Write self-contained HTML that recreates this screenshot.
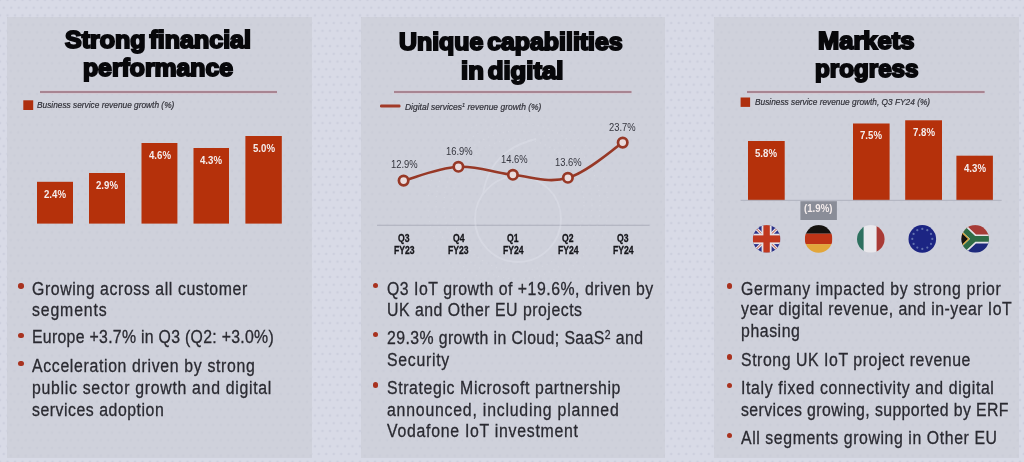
<!DOCTYPE html>
<html lang="en"><head><meta charset="utf-8"><title>Business performance</title>
<style>
html,body{margin:0;padding:0}
body{width:1024px;height:462px;overflow:hidden;position:relative;background-color:#D8DAE6;background-image:radial-gradient(circle,rgba(110,118,150,.11) 0,rgba(110,118,150,.11) .9px,transparent 1.7px),radial-gradient(circle,rgba(110,118,150,.11) 0,rgba(110,118,150,.11) .9px,transparent 1.7px);background-size:7.5px 15.4px;background-position:0 0,3.75px 7.7px;font-family:'Liberation Sans',sans-serif}
.pan{position:absolute;background-color:#CFD1DB;background-image:radial-gradient(circle,rgba(110,118,150,.045) 0,rgba(110,118,150,.045) .9px,transparent 1.7px),radial-gradient(circle,rgba(110,118,150,.045) 0,rgba(110,118,150,.045) .9px,transparent 1.7px);background-size:7.5px 15.4px;background-position:0 0,3.75px 7.7px}
.t{position:absolute;white-space:nowrap;transform-origin:0 0;line-height:normal;color:#2a2a31}
.ttl{font:bold 24px 'Liberation Sans',sans-serif;word-spacing:-3px;color:#08080b;-webkit-text-stroke:1.9px #08080b}
.leg{font:italic 9px 'Liberation Sans',sans-serif;color:#303038;-webkit-text-stroke:0.2px #303038}
.bul{font:18px 'Liberation Sans',sans-serif;-webkit-text-stroke:0.3px #2a2a31}
.bl{font:bold 10px 'Liberation Sans',sans-serif;color:#f4ecec}
.pl{font:10px 'Liberation Sans',sans-serif;color:#34353e}
.ax{font:bold 10.4px 'Liberation Sans',sans-serif;color:#15151a;-webkit-text-stroke:0.3px #15151a}
sup{font-size:.66em;line-height:0;vertical-align:baseline;position:relative;top:-.42em}
.dot{position:absolute;width:5.6px;height:5.6px;border-radius:50%;background:#A8321F}
svg{position:absolute;left:0;top:0}
</style></head><body>
<div class="pan" style="left:6.8px;top:16.7px;width:305.2px;height:441.3px"></div>
<div class="pan" style="left:360.8px;top:16.8px;width:304.6px;height:441.2px"></div>
<div class="pan" style="left:713.8px;top:16.8px;width:305.2px;height:441.2px"></div>
<svg width="1024" height="462" viewBox="0 0 1024 462">
<rect x="37" y="181.8" width="36.0" height="41.8" fill="#B5310B"/>
<rect x="89" y="173" width="36.0" height="50.6" fill="#B5310B"/>
<rect x="141.5" y="143" width="35.9" height="80.6" fill="#B5310B"/>
<rect x="193.5" y="148" width="35.5" height="75.6" fill="#B5310B"/>
<rect x="245.4" y="136" width="36.4" height="87.6" fill="#B5310B"/>
<rect x="748" y="141" width="36.7" height="59.4" fill="#B5310B"/>
<rect x="853" y="123.5" width="36.6" height="76.9" fill="#B5310B"/>
<rect x="905.2" y="120.3" width="36.8" height="80.1" fill="#B5310B"/>
<rect x="956.4" y="155.7" width="36.5" height="44.7" fill="#B5310B"/>
<rect x="800.4" y="201.2" width="36.5" height="18.8" fill="#8A8D98"/>
<rect x="740.6" y="199.8" width="261" height="1.1" fill="#B2B4C0"/>
<rect x="23.3" y="100.3" width="9.9" height="9.7" fill="#AE2F0E"/>
<rect x="740.6" y="97.5" width="9.5" height="9.4" fill="#AE2F0E"/>
<rect x="40" y="90.2" width="237.0" height="3.8" fill="#D6C8D2" opacity="0.7"/><rect x="40" y="91" width="237.0" height="2" fill="#A88592"/>
<rect x="394" y="90.2" width="237.5" height="3.8" fill="#D6C8D2" opacity="0.7"/><rect x="394" y="91" width="237.5" height="2" fill="#A88592"/>
<rect x="747" y="90.2" width="237.6" height="3.8" fill="#D6C8D2" opacity="0.7"/><rect x="747" y="91" width="237.6" height="2" fill="#A88592"/>
<rect x="377" y="224.7" width="272.6" height="1.2" fill="#B2B4C0"/>
<rect x="380" y="104.6" width="20.5" height="2.8" rx="1.2" fill="#A23A28"/>
<g fill="none" stroke="#E2E4ED" opacity="0.4"><circle cx="518" cy="219" r="43" stroke-width="1.8"/><path d="M483,194 Q490,150 536,139" stroke-width="1.8"/><circle cx="518" cy="205" r="66" stroke-width="1.2" stroke-dasharray="1.2 4" opacity="0.6"/><circle cx="518" cy="205" r="74" stroke-width="1.2" stroke-dasharray="1.2 4" opacity="0.6"/><circle cx="518" cy="205" r="82" stroke-width="1.2" stroke-dasharray="1.2 4" opacity="0.6"/><circle cx="518" cy="205" r="90" stroke-width="1.2" stroke-dasharray="1.2 4" opacity="0.5"/></g>
<path d="M403.6,180.6 C413.6,178.1 438.4,167.9 458.4,166.8 C478.4,165.7 492.8,172.8 512.9,174.8 C533.0,176.8 547.8,183.7 567.9,177.8 C588.0,171.9 612.7,149.1 622.7,142.6" fill="none" stroke="#973826" stroke-width="2.6" stroke-linecap="round"/>
<circle cx="403.6" cy="180.6" r="4.7" fill="#E9DCDD" stroke="#973826" stroke-width="2.7"/>
<circle cx="458.4" cy="166.8" r="4.7" fill="#E9DCDD" stroke="#973826" stroke-width="2.7"/>
<circle cx="512.9" cy="174.8" r="4.7" fill="#E9DCDD" stroke="#973826" stroke-width="2.7"/>
<circle cx="567.9" cy="177.8" r="4.7" fill="#E9DCDD" stroke="#973826" stroke-width="2.7"/>
<circle cx="622.7" cy="142.6" r="4.7" fill="#E9DCDD" stroke="#973826" stroke-width="2.7"/>
<defs><clipPath id="c0"><circle cx="766.6" cy="238.9" r="13.8"/></clipPath><clipPath id="c1"><circle cx="818.6" cy="238.9" r="13.8"/></clipPath><clipPath id="c2"><circle cx="870.8" cy="238.9" r="13.8"/></clipPath><clipPath id="c3"><circle cx="922.3" cy="238.9" r="13.8"/></clipPath><clipPath id="c4"><circle cx="975.2" cy="238.9" r="13.8"/></clipPath></defs>
<g clip-path="url(#c0)"><rect x="752.8000000000001" y="225.1" width="27.6" height="27.6" fill="#2A3188"/><path d="M752.8000000000001,225.1 L780.4,252.70000000000002 M780.4,225.1 L752.8000000000001,252.70000000000002" stroke="#E4E0E6" stroke-width="3.2"/><path d="M752.8000000000001,225.1 L780.4,252.70000000000002 M780.4,225.1 L752.8000000000001,252.70000000000002" stroke="#C4503E" stroke-width="1.0"/><rect x="761.6" y="225.1" width="10" height="27.6" fill="#E4E0E6"/><rect x="752.8000000000001" y="233.70000000000002" width="27.6" height="10.4" fill="#E4E0E6"/><rect x="763.4" y="225.1" width="6.4" height="27.6" fill="#C0381F"/><rect x="752.8000000000001" y="235.4" width="27.6" height="7" fill="#C0381F"/></g>
<g clip-path="url(#c1)"><rect x="804.8000000000001" y="225.1" width="27.6" height="8.6" fill="#15120F"/><rect x="804.8000000000001" y="233.7" width="27.6" height="10.4" fill="#BE3417"/><rect x="804.8000000000001" y="244.1" width="27.6" height="9" fill="#E2A63A"/></g>
<g clip-path="url(#c2)"><rect x="857.0" y="225.1" width="27.6" height="27.6" fill="#E9E8EC"/><rect x="857.0" y="225.1" width="6.6" height="27.6" fill="#2E705F"/><rect x="876.5999999999999" y="225.1" width="9" height="27.6" fill="#A93A35"/></g>
<circle cx="922.3" cy="238.9" r="13.8" fill="#1C2583"/>
<circle cx="922.3" cy="228.9" r="1.1" fill="#6272AE"/>
<circle cx="927.3" cy="230.2" r="1.1" fill="#6272AE"/>
<circle cx="931.0" cy="233.9" r="1.1" fill="#6272AE"/>
<circle cx="932.3" cy="238.9" r="1.1" fill="#6272AE"/>
<circle cx="931.0" cy="243.9" r="1.1" fill="#6272AE"/>
<circle cx="927.3" cy="247.6" r="1.1" fill="#6272AE"/>
<circle cx="922.3" cy="248.9" r="1.1" fill="#6272AE"/>
<circle cx="917.3" cy="247.6" r="1.1" fill="#6272AE"/>
<circle cx="913.6" cy="243.9" r="1.1" fill="#6272AE"/>
<circle cx="912.3" cy="238.9" r="1.1" fill="#6272AE"/>
<circle cx="913.6" cy="233.9" r="1.1" fill="#6272AE"/>
<circle cx="917.3" cy="230.2" r="1.1" fill="#6272AE"/>
<g clip-path="url(#c4)"><rect x="961.4000000000001" y="225.1" width="27.6" height="13.8" fill="#A63B36"/><rect x="961.4000000000001" y="238.9" width="27.6" height="13.8" fill="#1E2A7C"/><path d="M957.4000000000001,223.1 L974.2,238.9 L957.4000000000001,254.70000000000002 M974.2,238.9 L991.0,238.9" stroke="#E4E2E6" stroke-width="9" fill="none"/><path d="M957.4000000000001,223.1 L974.2,238.9 L957.4000000000001,254.70000000000002 M974.2,238.9 L991.0,238.9" stroke="#2F6B45" stroke-width="5.6" fill="none"/><path d="M960.4000000000001,230.9 L968.7,238.9 L960.4000000000001,246.9 Z" fill="#14110E" stroke="#D9A83C" stroke-width="1.3"/></g>
</svg>
<div class="t ttl" style="left:65.0px;top:26.30px;transform:scaleX(1.0428)">Strong financial</div>
<div class="t ttl" style="left:83.0px;top:53.80px;transform:scaleX(1.0317)">performance</div>
<div class="t ttl" style="left:399.0px;top:27.80px;transform:scaleX(1.0370)">Unique capabilities</div>
<div class="t ttl" style="left:460.6px;top:56.80px;transform:scaleX(1.0703)">in digital</div>
<div class="t ttl" style="left:817.7px;top:27.30px;transform:scaleX(1.0615)">Markets</div>
<div class="t ttl" style="left:814.5px;top:55.40px;transform:scaleX(1.0078)">progress</div>
<div class="t leg" style="left:36.7px;top:100.31px;transform:scaleX(0.9242)">Business service revenue growth (%)</div>
<div class="t leg" style="left:405.4px;top:101.71px;transform:scaleX(0.9414)">Digital services<sup>1</sup> revenue growth (%)</div>
<div class="t leg" style="left:754.9px;top:97.31px;transform:scaleX(0.9236)">Business service revenue growth, Q3 FY24 (%)</div>
<div class="t bul" style="left:32.3px;top:279.02px;transform:scaleX(0.8800);letter-spacing:0.672px">Growing across all customer</div>
<div class="t bul" style="left:32.3px;top:300.02px;transform:scaleX(0.8800);letter-spacing:0.977px">segments</div>
<div class="t bul" style="left:32.3px;top:327.02px;transform:scaleX(0.8800);letter-spacing:0.328px">Europe +3.7% in Q3 (Q2: +3.0%)</div>
<div class="t bul" style="left:32.3px;top:356.02px;transform:scaleX(0.8800);letter-spacing:0.748px">Acceleration driven by strong</div>
<div class="t bul" style="left:32.3px;top:378.02px;transform:scaleX(0.8800);letter-spacing:0.803px">public sector growth and digital</div>
<div class="t bul" style="left:32.3px;top:400.02px;transform:scaleX(0.8800);letter-spacing:0.598px">services adoption</div>
<div class="t bul" style="left:387.0px;top:279.02px;transform:scaleX(0.8800);letter-spacing:0.584px">Q3 IoT growth of +19.6%, driven by</div>
<div class="t bul" style="left:387.0px;top:300.02px;transform:scaleX(0.8800);letter-spacing:0.587px">UK and Other EU projects</div>
<div class="t bul" style="left:387.0px;top:328.02px;transform:scaleX(0.8800);letter-spacing:0.455px">29.3% growth in Cloud; SaaS<sup>2</sup> and</div>
<div class="t bul" style="left:387.0px;top:350.02px;transform:scaleX(0.8800);letter-spacing:0.823px">Security</div>
<div class="t bul" style="left:387.0px;top:378.02px;transform:scaleX(0.8800);letter-spacing:0.704px">Strategic Microsoft partnership</div>
<div class="t bul" style="left:387.0px;top:400.02px;transform:scaleX(0.8800);letter-spacing:0.892px">announced, including planned</div>
<div class="t bul" style="left:387.0px;top:421.02px;transform:scaleX(0.8800);letter-spacing:0.824px">Vodafone IoT investment</div>
<div class="t bul" style="left:740.6px;top:279.02px;transform:scaleX(0.8800);letter-spacing:0.746px">Germany impacted by strong prior</div>
<div class="t bul" style="left:740.6px;top:299.02px;transform:scaleX(0.8800);letter-spacing:0.540px">year digital revenue, and in-year IoT</div>
<div class="t bul" style="left:740.6px;top:321.02px;transform:scaleX(0.8800);letter-spacing:0.645px">phasing</div>
<div class="t bul" style="left:740.6px;top:350.02px;transform:scaleX(0.8800);letter-spacing:0.638px">Strong UK IoT project revenue</div>
<div class="t bul" style="left:740.6px;top:378.02px;transform:scaleX(0.8800);letter-spacing:0.721px">Italy fixed connectivity and digital</div>
<div class="t bul" style="left:740.6px;top:400.02px;transform:scaleX(0.8800);letter-spacing:0.450px">services growing, supported by ERF</div>
<div class="t bul" style="left:740.6px;top:428.02px;transform:scaleX(0.8800);letter-spacing:0.670px">All segments growing in Other EU</div>
<div class="dot" style="left:18.0px;top:283.4px"></div>
<div class="dot" style="left:18.0px;top:332.5px"></div>
<div class="dot" style="left:18.0px;top:360.5px"></div>
<div class="dot" style="left:372.6px;top:282.8px"></div>
<div class="dot" style="left:372.6px;top:331.7px"></div>
<div class="dot" style="left:372.6px;top:382.2px"></div>
<div class="dot" style="left:726.6px;top:283.4px"></div>
<div class="dot" style="left:726.6px;top:354.0px"></div>
<div class="dot" style="left:726.6px;top:382.9px"></div>
<div class="dot" style="left:726.6px;top:432.6px"></div>
<div class="t bl" style="left:44.0px;top:188.79px;transform:scaleX(0.965)">2.4%</div>
<div class="t bl" style="left:96.0px;top:179.99px;transform:scaleX(0.965)">2.9%</div>
<div class="t bl" style="left:148.5px;top:149.99px;transform:scaleX(0.965)">4.6%</div>
<div class="t bl" style="left:200.3px;top:154.99px;transform:scaleX(0.965)">4.3%</div>
<div class="t bl" style="left:252.6px;top:142.99px;transform:scaleX(0.965)">5.0%</div>
<div class="t bl" style="left:755.4px;top:147.99px;transform:scaleX(0.965)">5.8%</div>
<div class="t bl" style="left:860.3px;top:130.49px;transform:scaleX(0.965)">7.5%</div>
<div class="t bl" style="left:912.6px;top:127.29px;transform:scaleX(0.965)">7.8%</div>
<div class="t bl" style="left:963.7px;top:162.69px;transform:scaleX(0.965)">4.3%</div>
<div class="t bl" style="left:804.4px;top:203.49px;transform:scaleX(0.965)">(1.9%)</div>
<div class="t pl" style="left:390.7px;top:158.89px;transform:scaleX(0.94)">12.9%</div>
<div class="t pl" style="left:445.7px;top:145.59px;transform:scaleX(0.94)">16.9%</div>
<div class="t pl" style="left:500.7px;top:153.59px;transform:scaleX(0.94)">14.6%</div>
<div class="t pl" style="left:554.7px;top:156.59px;transform:scaleX(0.94)">13.6%</div>
<div class="t pl" style="left:609.4px;top:122.39px;transform:scaleX(0.94)">23.7%</div>
<div class="t ax" style="left:398.2px;top:232.82px;transform:scaleX(0.83)">Q3</div>
<div class="t ax" style="left:393.7px;top:245.42px;transform:scaleX(0.83)">FY23</div>
<div class="t ax" style="left:452.8px;top:232.82px;transform:scaleX(0.83)">Q4</div>
<div class="t ax" style="left:448.3px;top:245.42px;transform:scaleX(0.83)">FY23</div>
<div class="t ax" style="left:507.2px;top:232.82px;transform:scaleX(0.83)">Q1</div>
<div class="t ax" style="left:502.7px;top:245.42px;transform:scaleX(0.83)">FY24</div>
<div class="t ax" style="left:562.2px;top:232.82px;transform:scaleX(0.83)">Q2</div>
<div class="t ax" style="left:557.7px;top:245.42px;transform:scaleX(0.83)">FY24</div>
<div class="t ax" style="left:617.0px;top:232.82px;transform:scaleX(0.83)">Q3</div>
<div class="t ax" style="left:612.5px;top:245.42px;transform:scaleX(0.83)">FY24</div>
</body></html>
